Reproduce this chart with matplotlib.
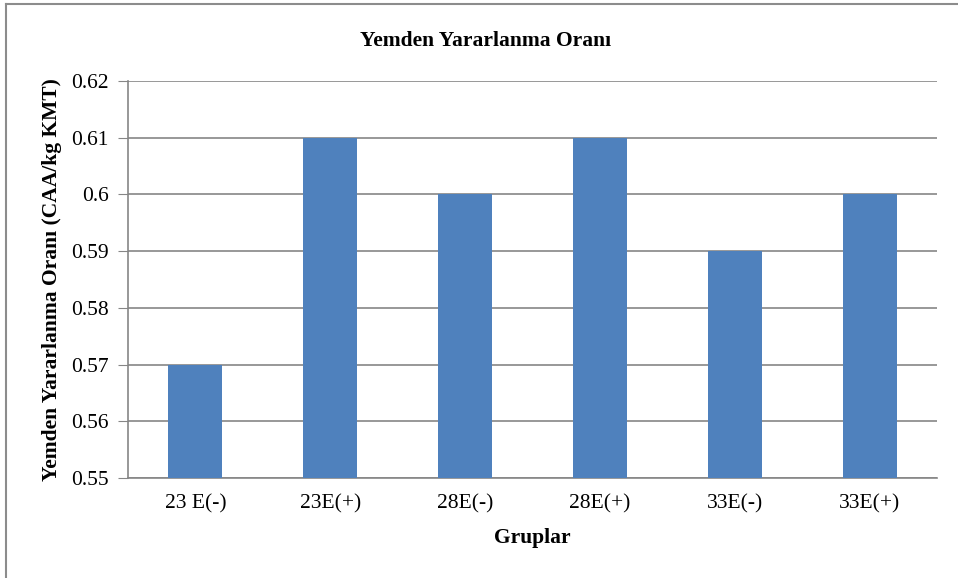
import numpy as np
import matplotlib.pyplot as plt
from matplotlib.lines import Line2D

groups = ["23 E(-)", "23E(+)", "28E(-)", "28E(+)", "33E(-)", "33E(+)"]
values = [0.57, 0.61, 0.60, 0.61, 0.59, 0.60]
yticks = [0.55, 0.56, 0.57, 0.58, 0.59, 0.60, 0.61, 0.62]
ytick_labels = ["0.55", "0.56", "0.57", "0.58", "0.59", "0.6", "0.61", "0.62"]

plt.rcParams['font.family'] = ['Liberation Serif', 'DejaVu Serif']

fig = plt.figure(figsize=(9.58, 5.78), dpi=100)
ax = fig.add_axes([128/958, 1-478/578, (937-128)/958, (478-81)/578])

x = np.arange(len(groups))
ax.bar(x, values, width=0.4, color='#4F81BD', zorder=3)

ax.set_xlim(-0.5, len(groups)-0.5)
ax.set_ylim(0.55, 0.62)
ax.set_yticks(yticks)
ax.set_yticklabels(ytick_labels, fontsize=15.5)
ax.set_xticks(x)
ax.set_xticklabels(groups, fontsize=15.5)
ax.tick_params(axis='x', length=0, pad=12)
ax.tick_params(axis='y', length=7, color='#868686', pad=7)
ax.yaxis.grid(True, color='#868686', linewidth=1.2, zorder=0)

for s in ['top', 'right']:
    ax.spines[s].set_visible(False)
for s in ['left', 'bottom']:
    ax.spines[s].set_color('#868686')
    ax.spines[s].set_linewidth(1.2)

ax.set_xlabel("Gruplar", fontsize=15.5, fontweight='bold', labelpad=10)
ax.set_ylabel("Yemden Yararlanma Oranı (CAA/kg KMT)", fontsize=15.5,
              fontweight='bold', labelpad=6)
fig.text(486/958, 1-41/578, "Yemden Yararlanma Oranı", ha='center', va='center',
         fontsize=15.5, fontweight='bold')

# outer chart frame (left and top edges visible)
fig.add_artist(Line2D([6/958, 6/958], [0, 1-4/578], color='#8c8c8c', lw=1.5,
                      transform=fig.transFigure))
fig.add_artist(Line2D([6/958, 1], [1-4/578, 1-4/578], color='#8c8c8c', lw=1.5,
                      transform=fig.transFigure))

fig.savefig("out.png", dpi=100)
